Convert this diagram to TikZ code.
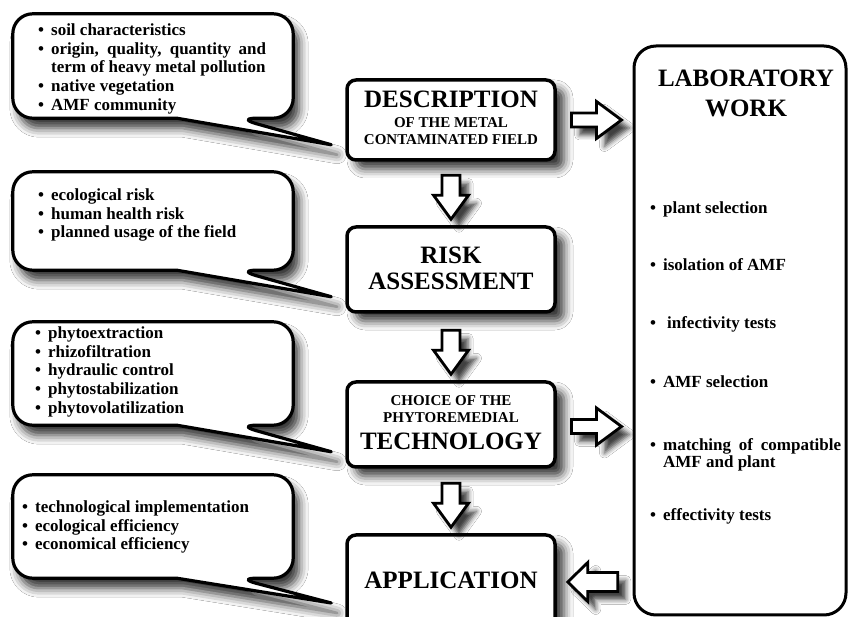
\documentclass[tikz,border=0pt]{standalone}
\usepackage{fontspec}
\setmainfont{Liberation Serif}
\usetikzlibrary{calc,shadows.blur}
\tikzset{
  box/.style={draw, line width=3.5pt, rounded corners=9pt, fill=white, minimum width=208pt, inner sep=0pt,
    blur shadow={shadow xshift=9pt, shadow yshift=-9pt, shadow blur radius=9pt, shadow opacity=80}},
  labbox/.style={draw, line width=3pt, rounded corners=22pt, fill=white, minimum width=212pt, minimum height=569pt, inner sep=0pt},
  cbox/.style={minimum width=280pt, inner sep=0pt},
  callout/.style={draw, line width=3.2pt, fill=white, line join=round,
    blur shadow={shadow xshift=6pt, shadow yshift=-10pt, shadow blur radius=9pt, shadow opacity=80}},
  barrow/.style={draw, line width=2.8pt, fill=white, line join=miter,
    blur shadow={shadow xshift=8pt, shadow yshift=-8pt, shadow blur radius=5pt, shadow opacity=75}},
  big/.style={font=\fontsize{25}{25}\selectfont\bfseries, inner sep=0pt, anchor=base},
  small/.style={font=\fontsize{15}{15}\selectfont\bfseries, inner sep=0pt, anchor=base},
  ctext/.style={font=\fontsize{17}{18.7}\selectfont\bfseries, inner sep=0pt, anchor=base west, align=left},
  item/.style={font=\fontsize{17}{16}\selectfont\bfseries, inner sep=0pt, anchor=base west, align=left},
}
\newcommand{\bul}{\textbullet}
\begin{document}
\begin{tikzpicture}[x=1pt,y=-1pt]
\fill[white] (0,0) rectangle (855,617);
\useasboundingbox (0,0) rectangle (855,617);

% main boxes
\node[box, minimum height=80pt] (desc) at (451,120) {};
\node[box, minimum height=85pt] (risk) at (451,269.5) {};
\node[box, minimum height=85pt] (tech) at (451,424.5) {};
\node[box, minimum height=94pt] (app) at (451,582) {};
\node[labbox] (lab) at (740,330.5) {};

% callout anchors
\node[cbox, minimum height=104pt] (c1) at (153,66) {};
\node[cbox, minimum height=98pt] (c2) at (153,221) {};
\node[cbox, minimum height=103pt] (c3) at (153,373.5) {};
\node[cbox, minimum height=103pt] (c4) at (153,526.5) {};

% callout outlines with tails
\draw[callout] ($(c1.south west)+(164,0)$) [rounded corners=20pt] -- (c1.south west) -- (c1.north west) -- (c1.north east) -- (c1.south east) -- ($(c1.south west)+(224,0)$) [sharp corners] -- ($(desc.south west)+(-14,-17)$) -- cycle;
\draw[callout] ($(c2.south west)+(164,0)$) [rounded corners=20pt] -- (c2.south west) -- (c2.north west) -- (c2.north east) -- (c2.south east) -- ($(c2.south west)+(224,0)$) [sharp corners] -- ($(risk.south west)+(-14,-17)$) -- cycle;
\draw[callout] ($(c3.south west)+(164,0)$) [rounded corners=20pt] -- (c3.south west) -- (c3.north west) -- (c3.north east) -- (c3.south east) -- ($(c3.south west)+(224,0)$) [sharp corners] -- ($(tech.south west)+(-14,-17)$) -- cycle;
\draw[callout] ($(c4.south west)+(164,0)$) [rounded corners=20pt] -- (c4.south west) -- (c4.north west) -- (c4.north east) -- (c4.south east) -- ($(c4.south west)+(224,0)$) [sharp corners] -- ($(app.west)+(-14,21)$) -- cycle;

% callout texts
\node[ctext] (t1) at (38,35.5) {\begin{tabular}[t]{@{}l@{\hspace{7pt}}l@{}}
\bul & soil characteristics\\
\bul & \makebox[215pt][s]{origin, quality, quantity and}\\
 & term of heavy metal pollution\\
\bul & native vegetation\\
\bul & AMF community
\end{tabular}};
\node[ctext] (t2) at (38,200.5) {\begin{tabular}[t]{@{}l@{\hspace{7pt}}l@{}}
\bul & ecological risk\\
\bul & human health risk\\
\bul & planned usage of the field
\end{tabular}};
\node[ctext] (t3) at (35,338.5) {\begin{tabular}[t]{@{}l@{\hspace{7pt}}l@{}}
\bul & phytoextraction\\
\bul & rhizofiltration\\
\bul & hydraulic control\\
\bul & phytostabilization\\
\bul & phytovolatilization
\end{tabular}};
\node[ctext] (t4) at (22,512.5) {\begin{tabular}[t]{@{}l@{\hspace{7pt}}l@{}}
\bul & technological implementation\\
\bul & ecological efficiency\\
\bul & economical efficiency
\end{tabular}};

% box texts
\node[big] (d1) at (451,108) {DESCRIPTION};
\node[small] (d2) at (451,128) {OF THE METAL};
\node[small] (d3) at (451,145) {CONTAMINATED FIELD};
\node[big] (r1) at (451,263.5) {RISK};
\node[big] (r2) at (451,290) {ASSESSMENT};
\node[small] (h1) at (451,406) {CHOICE OF THE};
\node[small] (h2) at (451,423) {PHYTOREMEDIAL};
\node[big] (h3) at (451,450) {TECHNOLOGY};
\node[big] (p1) at (451,589) {APPLICATION};

% lab texts
\node[big] (l1) at (746,86.5) {LABORATORY};
\node[big] (l2) at (746,116.5) {WORK};
\node[item] (i1) at (650,213.5) {\bul\hspace{7pt}plant selection};
\node[item] (i2) at (650,270.5) {\bul\hspace{7pt}isolation of AMF};
\node[item] (i3) at (650,328.5) {\bul\hspace{11pt}infectivity tests};
\node[item] (i4) at (650,387.5) {\bul\hspace{7pt}AMF selection};
\node[item] (i5) at (650,450.5) {\begin{tabular}[t]{@{}l@{\hspace{7pt}}l@{}}
\bul & \makebox[178pt][s]{matching of compatible}\\
 & AMF and plant
\end{tabular}};
\node[item] (i6) at (650,520.5) {\bul\hspace{7pt}effectivity tests};

% down arrows
\draw[barrow] ($(risk.north)+(0,-6)$) -- ++(17.5,-24) -- ++(-8.5,0) -- ++(0,-20) -- ++(-18,0) -- ++(0,20) -- ++(-8.5,0) -- cycle;
\draw[barrow] ($(tech.north)+(0,-6)$) -- ++(17.5,-24) -- ++(-8.5,0) -- ++(0,-20) -- ++(-18,0) -- ++(0,20) -- ++(-8.5,0) -- cycle;
\draw[barrow] ($(app.north)+(0,-6)$) -- ++(17.5,-24) -- ++(-8.5,0) -- ++(0,-20) -- ++(-18,0) -- ++(0,20) -- ++(-8.5,0) -- cycle;

% right arrows
\draw[barrow] ($(lab.west|-desc.east)+(-11,0)$) -- ++(-25,-18.5) -- ++(0,11.5) -- ++(-25,0) -- ++(0,14) -- ++(25,0) -- ++(0,11.5) -- cycle;
\draw[barrow] ($(lab.west|-tech.east)+(-11,2)$) -- ++(-25,-18.5) -- ++(0,11.5) -- ++(-25,0) -- ++(0,14) -- ++(25,0) -- ++(0,11.5) -- cycle;

% left arrow
\draw[barrow] ($(app.east)+(11,0)$) -- ++(20,-19.5) -- ++(0,10) -- ++(30,0) -- ++(0,19) -- ++(-30,0) -- ++(0,10) -- cycle;
\end{tikzpicture}
\end{document}
